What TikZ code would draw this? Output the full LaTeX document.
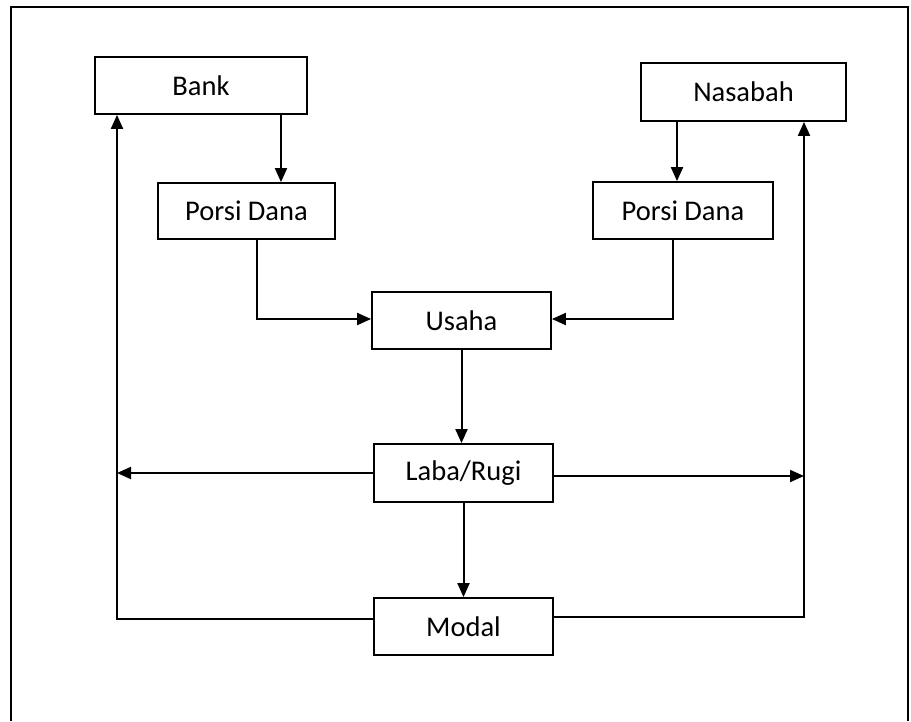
\documentclass[tikz,border=0pt]{standalone}
\usepackage{fontspec}
\setmainfont{Carlito}
\usetikzlibrary{arrows.meta,calc}
\begin{document}
\begin{tikzpicture}[x=1pt,y=-1pt,
  box/.style={draw,line width=1.8pt,minimum width=#1,inner sep=0pt,minimum height=58pt,font=\fontsize{28.5}{34}\selectfont},
  arr/.style={line width=2pt,-{Triangle[length=14pt,width=12pt]}}]
\useasboundingbox (0,0) rectangle (911,721);
\draw[line width=1.8pt] (11,721) -- (11,7) -- (908,7) -- (908,721);
\node[box=212pt,minimum height=57pt] (bank) at (201,85.5) {Bank};
\node[box=205pt] (nas) at (743.5,92) {Nasabah};
\node[box=177pt,minimum height=56pt] (pd1) at (246.5,211) {Porsi Dana};
\node[box=180pt,minimum height=57pt] (pd2) at (683,210.5) {Porsi Dana};
\node[box=179pt,minimum height=57pt] (usaha) at (461.5,320.5) {Usaha};
\node[box=179pt] (laba) at (463.5,473) {Laba/Rugi};
\node[box=179pt,minimum height=57pt] (modal) at (463.5,626.5) {Modal};
\coordinate (lx) at (117,0);
\coordinate (rx) at (804,0);
\draw[arr] ([xshift=80pt]bank.south) -- ([xshift=34.5pt]pd1.north);
\draw[arr] ([xshift=-66.5pt]nas.south) -- ([xshift=-6pt]pd2.north);
\draw[arr] ([xshift=10.5pt]pd1.south) |- ([yshift=1.5pt]usaha.west);
\draw[arr] ([xshift=-10pt]pd2.south) |- ([yshift=1.5pt]usaha.east);
\draw[arr] (usaha.south) -- (usaha.south |- laba.north);
\draw[arr] (laba.south) -- (modal.north);
\draw[arr] (laba.west) -- (laba.west -| lx);
\draw[arr] ([yshift=-3pt]laba.east) -- ([yshift=-3pt]laba.east -| rx);
\draw[arr] ([yshift=7.5pt]modal.west) -| (bank.south -| lx);
\draw[arr] ([yshift=9.5pt]modal.east) -| (nas.south -| rx);
\end{tikzpicture}
\end{document}
